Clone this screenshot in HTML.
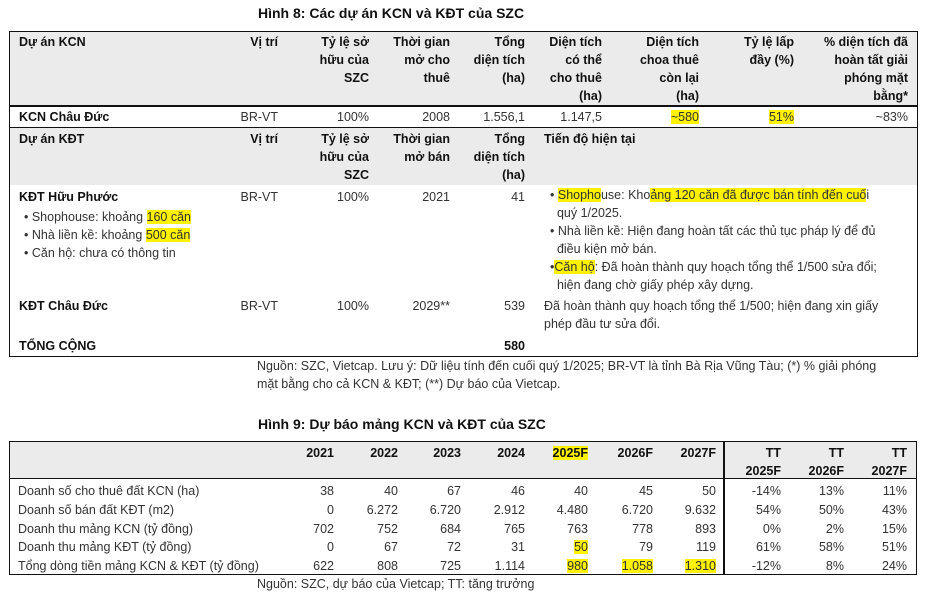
<!DOCTYPE html>
<html><head><meta charset="utf-8">
<style>
body{margin:0;background:#fff;width:932px;height:593px;overflow:hidden;position:relative;font-family:"Liberation Sans","Noto Sans CJK SC",sans-serif;font-size:12.5px;color:#333}
.a{position:absolute;white-space:nowrap;line-height:18px}
.r{text-align:right}
.b{font-weight:bold;color:#111}
.hl{background:#fff200}
.box{position:absolute;box-sizing:border-box}
</style></head><body>

<div class="a b" style="left:258px;top:4px;font-size:14px">Hình 8: Các dự án KCN và KĐT của SZC</div>

<div class="box" style="left:9px;top:31px;width:909px;height:326px;border:1.5px solid #111"></div>
<div class="box" style="left:10px;top:32px;width:907px;height:73px;background:#ebebeb"></div>
<div class="box" style="left:10px;top:105px;width:907px;height:1.5px;background:#111"></div>
<div class="box" style="left:10px;top:127px;width:907px;height:1.5px;background:#111"></div>
<div class="box" style="left:10px;top:128px;width:907px;height:57px;background:#ebebeb"></div>

<div class="a b" style="left:19px;top:33px">Dự án KCN</div>
<div class="a b r" style="right:654px;top:33px">Vị trí</div>
<div class="a b r" style="right:563px;top:33px">Tỷ lệ sở<br>hữu của<br>SZC</div>
<div class="a b r" style="right:482px;top:33px">Thời gian<br>mở cho<br>thuê</div>
<div class="a b r" style="right:407px;top:33px">Tổng<br>diện tích<br>(ha)</div>
<div class="a b r" style="right:330px;top:33px">Diện tích<br>có thể<br>cho thuê<br>(ha)</div>
<div class="a b r" style="right:233px;top:33px">Diện tích<br>choa thuê<br>còn lại<br>(ha)</div>
<div class="a b r" style="right:138px;top:33px">Tỷ lệ lấp<br>đầy (%)</div>
<div class="a b r" style="right:24px;top:33px">% diện tích đã<br>hoàn tất giải<br>phóng mặt<br>bằng*</div>

<div class="a b" style="left:19px;top:108px">KCN Châu Đức</div>
<div class="a r" style="right:654px;top:108px">BR-VT</div>
<div class="a r" style="right:563px;top:108px">100%</div>
<div class="a r" style="right:482px;top:108px">2008</div>
<div class="a r" style="right:407px;top:108px">1.556,1</div>
<div class="a r" style="right:330px;top:108px">1.147,5</div>
<div class="a r" style="right:233px;top:108px"><span class="hl">~580</span></div>
<div class="a r" style="right:138px;top:108px"><span class="hl">51%</span></div>
<div class="a r" style="right:24px;top:108px">~83%</div>

<div class="a b" style="left:19px;top:130px">Dự án KĐT</div>
<div class="a b r" style="right:654px;top:130px">Vị trí</div>
<div class="a b r" style="right:563px;top:130px">Tỷ lệ sở<br>hữu của<br>SZC</div>
<div class="a b r" style="right:482px;top:130px">Thời gian<br>mở bán</div>
<div class="a b r" style="right:407px;top:130px">Tổng<br>diện tích<br>(ha)</div>
<div class="a b" style="left:544px;top:130px">Tiến độ hiện tại</div>

<div class="a b" style="left:19px;top:188px">KĐT Hữu Phước</div>
<div class="a" style="left:24px;top:208px">• Shophouse: khoảng <span class="hl">160 căn</span><br>• Nhà liền kề: khoảng <span class="hl">500 căn</span><br>• Căn hộ: chưa có thông tin</div>
<div class="a r" style="right:654px;top:188px">BR-VT</div>
<div class="a r" style="right:563px;top:188px">100%</div>
<div class="a r" style="right:482px;top:188px">2021</div>
<div class="a r" style="right:407px;top:188px">41</div>
<div class="a" style="left:550px;top:186px">• <span class="hl">Shopho</span>use: Kho<span class="hl">ảng 120 căn đã được bán tính đến cuố</span>i<br>&nbsp;&nbsp;quý 1/2025.<br>• Nhà liền kề: Hiện đang hoàn tất các thủ tục pháp lý để đủ<br>&nbsp;&nbsp;điều kiện mở bán.<br>•<span class="hl">Căn hộ</span>: Đã hoàn thành quy hoạch tổng thể 1/500 sửa đổi;<br>&nbsp;&nbsp;hiện đang chờ giấy phép xây dựng.</div>

<div class="a b" style="left:19px;top:297px">KĐT Châu Đức</div>
<div class="a r" style="right:654px;top:297px">BR-VT</div>
<div class="a r" style="right:563px;top:297px">100%</div>
<div class="a r" style="right:482px;top:297px">2029**</div>
<div class="a r" style="right:407px;top:297px">539</div>
<div class="a" style="left:544px;top:297px">Đã hoàn thành quy hoạch tổng thể 1/500; hiện đang xin giấy<br>phép đầu tư sửa đổi.</div>

<div class="a b" style="left:19px;top:337px">TỔNG CỘNG</div>
<div class="a b r" style="right:407px;top:337px">580</div>

<div class="a" style="left:257px;top:357px">Nguồn: SZC, Vietcap. Lưu ý: Dữ liệu tính đến cuối quý 1/2025; BR-VT là tỉnh Bà Rịa Vũng Tàu; (*) % giải phóng<br>mặt bằng cho cả KCN &amp; KĐT; (**) Dự báo của Vietcap.</div>

<div class="a b" style="left:258px;top:415px;font-size:14px">Hình 9: Dự báo mảng KCN và KĐT của SZC</div>
<div class="box" style="left:9px;top:441px;width:908px;height:134px;border:1.5px solid #111"></div>
<div class="box" style="left:10px;top:442px;width:906px;height:37px;background:#ebebeb;border-bottom:1.5px solid #111"></div>
<div class="box" style="left:723px;top:442px;width:1.5px;height:132px;background:#111"></div>
<div id="t2"></div>

<div class="a" style="left:257px;top:575px">Nguồn: SZC, dự báo của Vietcap; TT: tăng trưởng</div>

<script>
const years = ["2021","2022","2023","2024","2025F","2026F","2027F"];
const growthHeaders = ["TT<br>2025F","TT<br>2026F","TT<br>2027F"];
const rowLabels = ["Doanh số cho thuê đất KCN (ha)","Doanh số bán đất KĐT (m2)","Doanh thu mảng KCN (tỷ đồng)","Doanh thu mảng KĐT (tỷ đồng)","Tổng dòng tiền mảng KCN & KĐT (tỷ đồng)"];
const leaseHa = ["38","40","67","46","40","45","50"];
const kdtSalesM2 = ["0","6.272","6.720","2.912","4.480","6.720","9.632"];
const kcnRevenue = ["702","752","684","765","763","778","893"];
const kdtRevenue = ["0","67","72","31","50","79","119"];
const totalCash = ["622","808","725","1.114","980","1.058","1.310"];
const growthLease = ["-14%","13%","11%"];
const growthKdtSales = ["54%","50%","43%"];
const growthKcnRev = ["0%","2%","15%"];
const growthKdtRev = ["61%","58%","51%"];
const growthCash = ["-12%","8%","24%"];
const rowsVals = [leaseHa,kdtSalesM2,kcnRevenue,kdtRevenue,totalCash];
const rowsGrowth = [growthLease,growthKdtSales,growthKcnRev,growthKdtRev,growthCash];
const highlights = {"3-4":true,"4-4":true,"4-5":true,"4-6":true};
const colRight = [334,398,461,525,588,653,716,781,844,907];
const c = document.getElementById('t2');
function cell(html,right,top,bold,hl,name){
  const d=document.createElement('div');
  d.className='a r'+(bold?' b':'');
  d.style.right=(932-right)+'px';d.style.top=top+'px';
  d.innerHTML=hl?'<span class="hl">'+html+'</span>':html;
  
  
  c.appendChild(d);
}
years.forEach((y,i)=>cell(y,colRight[i],444,true,i===4,'year-header-'+y));
growthHeaders.forEach((g,i)=>cell(g,colRight[7+i],444,true,false,'growth-header-'+i));
rowLabels.forEach((lab,r)=>{
  const top=482+r*18.8;
  const d=document.createElement('div');
  d.className='a';d.style.left='18px';d.style.top=top+'px';d.textContent=lab;
  
  
  c.appendChild(d);
  rowsVals[r].forEach((v,i)=>cell(v,colRight[i],top,false,!!highlights[r+'-'+i],'value-cell'));
  rowsGrowth[r].forEach((v,i)=>cell(v,colRight[7+i],top,false,false,'growth-cell'));
});
</script>
</body></html>
